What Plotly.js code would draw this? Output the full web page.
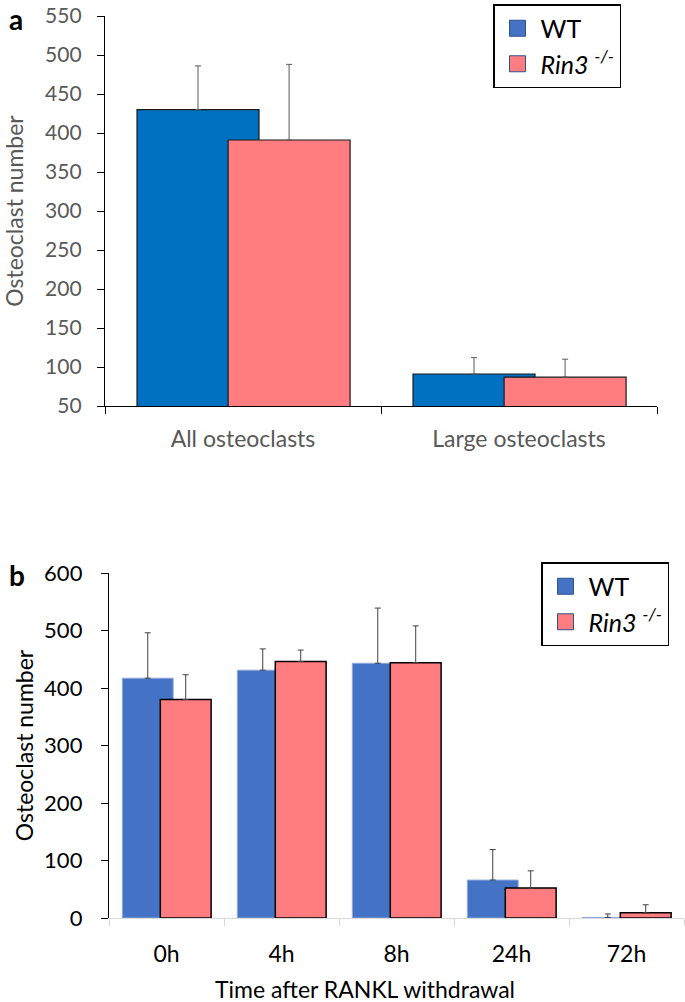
<!DOCTYPE html>
<html><head><meta charset="utf-8">
<script src="https://cdn.plot.ly/plotly-3.0.1.min.js"></script>
<style>html,body{margin:0;padding:0;background:#fff}</style>
</head><body><div id="chart" style="width:685px;height:1002px"></div>
<script>
// ---- data ----
const categoriesA = ['All osteoclasts', 'Large osteoclasts'];
const wtA = [430, 91];
const wtAErr = [56, 21];
const rinA = [391, 87];
const rinAErr = [97, 23];

const timesB = ['0h', '4h', '8h', '24h', '72h'];
const wtB = [417, 431, 443, 66, 1];
const wtBErr = [79, 37, 96, 53, 6];
const rinB = [380, 446, 444, 52, 9];
const rinBErr = [43, 20, 64, 30, 14];

const seriesNames = ['WT', '<i>Rin3 <sup>-/-</sup></i>'];
const yTitle = 'Osteoclast number';
const xTitleB = 'Time after RANKL withdrawal';

// ---- styling ----
const FONT = 'Lato, "Open Sans", sans-serif';
const W = 685, H = 1002;
const BW = 0.442, OFF1 = -0.384, OFF2 = -0.054;
const zeros = a => a.map(() => 0);

const traces = [
  {type:'bar', x:categoriesA, y:wtA, xaxis:'x', yaxis:'y', width:BW, offset:OFF1,
   marker:{color:'#0070C0', line:{color:'#1a1a1a', width:1.2}}, showlegend:false,
   error_y:{type:'data', array:wtAErr, arrayminus:zeros(wtAErr), symmetric:false, color:'#5a5a5a', thickness:1, width:3}},
  {type:'bar', x:categoriesA, y:rinA, xaxis:'x', yaxis:'y', width:BW, offset:OFF2,
   marker:{color:'#FF7C80', line:{color:'#1a1a1a', width:1.2}}, showlegend:false,
   error_y:{type:'data', array:rinAErr, arrayminus:zeros(rinAErr), symmetric:false, color:'#5a5a5a', thickness:1, width:3}},
  {type:'scatter', mode:'markers', x:[null], y:[null], xaxis:'x', yaxis:'y', name:seriesNames[0], legend:'legend',
   marker:{symbol:'square', size:16, color:'#4472C4', line:{color:'#2f528f', width:1}}},
  {type:'scatter', mode:'markers', x:[null], y:[null], xaxis:'x', yaxis:'y', name:seriesNames[1], legend:'legend',
   marker:{symbol:'square', size:16, color:'#FF7C80', line:{color:'#2f528f', width:1}}},

  {type:'bar', x:timesB, y:wtB, xaxis:'x2', yaxis:'y2', width:BW, offset:OFF1,
   marker:{color:'#4472C4', line:{color:'#8faadc', width:1}}, showlegend:false,
   error_y:{type:'data', array:wtBErr, arrayminus:zeros(wtBErr), symmetric:false, color:'#404040', thickness:1, width:3}},
  {type:'bar', x:timesB, y:rinB, xaxis:'x2', yaxis:'y2', width:BW, offset:OFF2,
   marker:{color:'#FF7C80', line:{color:'#000', width:1.5}}, showlegend:false,
   error_y:{type:'data', array:rinBErr, arrayminus:zeros(rinBErr), symmetric:false, color:'#404040', thickness:1, width:3}},
  {type:'scatter', mode:'markers', x:[null], y:[null], xaxis:'x2', yaxis:'y2', name:seriesNames[0], legend:'legend2',
   marker:{symbol:'square', size:16, color:'#4472C4', line:{color:'#2f528f', width:1}}},
  {type:'scatter', mode:'markers', x:[null], y:[null], xaxis:'x2', yaxis:'y2', name:seriesNames[1], legend:'legend2',
   marker:{symbol:'square', size:16, color:'#FF7C80', line:{color:'#2f528f', width:1}}}
];

const legendBase = {xanchor:'left', yanchor:'top', bordercolor:'#000', borderwidth:1.5, bgcolor:'#fff',
  font:{family:FONT, size:25, color:'#000'}, tracegroupgap:0, itemwidth:36, itemclick:false};

const layout = {
  width:W, height:H, autosize:false,
  margin:{l:0, r:0, t:0, b:0},
  paper_bgcolor:'#fff', plot_bgcolor:'rgba(0,0,0,0)',
  barmode:'overlay',
  font:{family:FONT, color:'#595959'},
  xaxis:{domain:[105/W, 657/W], anchor:'y', type:'category', range:[-0.5, 1.5],
    showline:true, linecolor:'#000', linewidth:1.2, ticks:'outside', tickson:'boundaries', ticklen:7, tickcolor:'#000',
    tickfont:{family:FONT, size:23, color:'#595959'}, ticklabelstandoff:12, showgrid:false, zeroline:false, fixedrange:true},
  yaxis:{domain:[1-406/H, 1-16/H], anchor:'x', range:[50, 550], dtick:50, tick0:50,
    showline:true, linecolor:'#000', linewidth:1.2, ticks:'outside', ticklen:7, tickcolor:'#000',
    tickfont:{family:FONT, size:21, color:'#595959'}, ticklabelstandoff:11, showgrid:false, zeroline:false,
    title:{text:yTitle, font:{family:FONT, size:23, color:'#595959'}, standoff:16}},
  xaxis2:{domain:[109/W, 684/W], anchor:'y2', type:'category', range:[-0.5, 4.5],
    showline:true, linecolor:'#d9d9d9', linewidth:1.2, ticks:'outside', tickson:'boundaries', ticklen:7, tickcolor:'#d9d9d9',
    tickfont:{family:FONT, size:23, color:'#000'}, ticklabelstandoff:15, showgrid:false, zeroline:false},
  yaxis2:{domain:[1-918/H, 1-573/H], anchor:'x2', range:[0, 600], dtick:100,
    showline:true, linecolor:'#000', linewidth:1.2, ticks:'outside', ticklen:7, tickcolor:'#000',
    tickfont:{family:FONT, size:22, color:'#000'}, ticklabelstandoff:14, showgrid:false, zeroline:false,
    title:{text:yTitle, font:{family:FONT, size:23, color:'#000'}, standoff:4}},
  legend:Object.assign({}, legendBase, {x:493/W, y:1-4/H}),
  legend2:Object.assign({}, legendBase, {x:541/W, y:1-562/H}),
  annotations:[
    {text:'<b>a</b>', xref:'paper', yref:'paper', x:7/W, y:1, xanchor:'left', yanchor:'top', showarrow:false,
     font:{family:FONT, size:28, color:'#000'}},
    {text:'<b>b</b>', xref:'paper', yref:'paper', x:7/W, y:1-556/H, xanchor:'left', yanchor:'top', showarrow:false,
     font:{family:FONT, size:28, color:'#000'}},
    {text:xTitleB, xref:'paper', yref:'paper', x:365/W, y:1-989/H, xanchor:'center', yanchor:'middle', showarrow:false,
     font:{family:FONT, size:23, color:'#000'}}
  ]
};

Plotly.newPlot('chart', traces, layout, {displayModeBar:false, staticPlot:true});
</script></body></html>
